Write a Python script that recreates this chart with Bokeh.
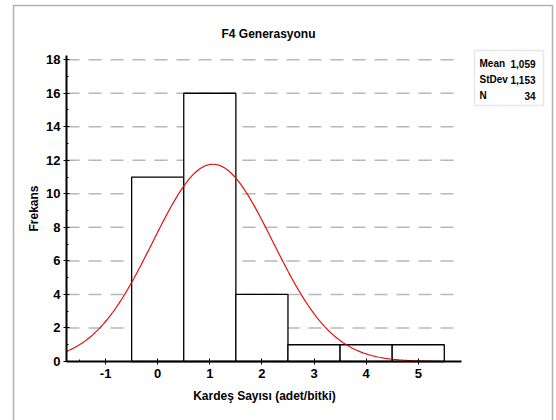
import numpy as np
from bokeh.plotting import figure
from bokeh.models import FixedTicker, Label, BoxAnnotation, Range1d
from bokeh.embed import file_html
from bokeh.resources import INLINE

# ---- data ----
bin_centers = [0, 1, 2, 3, 4, 5]
frequencies = [11, 16, 4, 1, 1, 1]
BIN_WIDTH = 1.0
MEAN = 1.059
STDEV = 1.153
N = 34
x_ticks = [-1, 0, 1, 2, 3, 4, 5]
y_ticks = [0, 2, 4, 6, 8, 10, 12, 14, 16, 18]
title_text = "F4 Generasyonu"
x_label = "Kardeş Sayısı (adet/bitki)"
y_label = "Frekans"
stat_names = ["Mean", "StDev", "N"]
stat_values = ["1,059", "1,153", "34"]

# ---- layout (pixels) ----
W, H = 556, 420
AX_X0, AX_X1 = -1.75, 5.83      # data extent of the x axis
AX_Y0, AX_Y1 = 0, 18.25         # data extent of the y axis
PX_LEFT, PX_RIGHT = 66, 461     # pixel extent of the x axis
PX_BOTTOM, PX_TOP = 361, 55     # pixel extent of the y axis

sx = (PX_RIGHT - PX_LEFT) / (AX_X1 - AX_X0)
sy = (PX_BOTTOM - PX_TOP) / (AX_Y1 - AX_Y0)
def X(px):
    return AX_X0 + (px - PX_LEFT) / sx
def Y(py):
    return AX_Y0 + (PX_BOTTOM - py) / sy

FONT = "Liberation Sans"

p = figure(width=W, height=H, x_range=Range1d(X(0), X(W)), y_range=Range1d(Y(H), Y(0)),
           output_backend="svg", toolbar_location=None,
           min_border_left=0, min_border_right=0, min_border_top=0, min_border_bottom=0)
p.outline_line_color = None
p.background_fill_color = "white"
p.border_fill_color = "white"
p.grid.visible = False

# grid lines (dashed), limited to axis extent
gy = y_ticks[1:]
p.segment(x0=[AX_X0] * len(gy), x1=[AX_X1] * len(gy), y0=gy, y1=gy,
          line_color="#b8b8b8", line_width=1.5, line_dash="13 9")

# bars
left = [c - BIN_WIDTH / 2 for c in bin_centers]
right = [c + BIN_WIDTH / 2 for c in bin_centers]
p.quad(left=left, right=right, bottom=0, top=frequencies,
       fill_color="white", line_color="black", line_width=1.3)

# normal fit
xs = np.linspace(AX_X0, 5.4, 300)
ys = N * BIN_WIDTH / (STDEV * np.sqrt(2 * np.pi)) * np.exp(-0.5 * ((xs - MEAN) / STDEV) ** 2)
p.line(xs, ys, line_color="#e01010", line_width=1.2)

# axes at fixed locations
for ax in (p.xaxis[0], p.yaxis[0]):
    ax.axis_line_color = "black"
    ax.axis_line_width = 2
    ax.major_tick_line_color = "black"
    ax.minor_tick_line_color = "black"
    ax.major_label_text_font = FONT
    ax.major_label_text_font_style = "bold"
    ax.major_label_text_font_size = "13px"
    ax.major_label_text_color = "black"
    ax.major_tick_in = 3
    ax.major_tick_out = 3
    ax.minor_tick_in = 2
    ax.minor_tick_out = 0
p.xaxis.fixed_location = AX_Y0
p.yaxis.fixed_location = AX_X0
p.xaxis.bounds = (AX_X0, AX_X1)
p.yaxis.bounds = (AX_Y0, AX_Y1)
p.xaxis.ticker = FixedTicker(ticks=x_ticks, minor_ticks=[-1.5 + i for i in range(8)])
p.yaxis.ticker = FixedTicker(ticks=y_ticks, minor_ticks=list(range(1, 19, 2)))
p.xaxis.major_label_overrides = {t: str(t) for t in x_ticks}
p.xaxis.major_label_standoff = 4
p.yaxis.major_label_standoff = 3

def lab(px, py, text, size="12px", align="center", font=FONT, angle=0.0):
    p.add_layout(Label(x=X(px), y=Y(py), text=text, text_font=font, text_font_style="bold",
                       text_font_size=size, text_align=align, text_baseline="middle",
                       text_color="black", angle=angle))

lab(268, 33, title_text)
lab(264, 395, x_label)
lab(33, 208, y_label, angle=np.pi / 2)

# outer frame lines (top and left)
p.add_layout(BoxAnnotation(left=X(13), right=X(552), top=Y(5), bottom=Y(H + 20),
                           fill_alpha=0, line_color="black", line_width=1.5))
# stats box
p.add_layout(BoxAnnotation(left=X(474), right=X(543), top=Y(50), bottom=Y(105),
                           fill_color="white", fill_alpha=1, line_color="#b0b0b0", line_width=1.5))
for i, (nm, vl) in enumerate(zip(stat_names, stat_values)):
    yy = 63 + i * 16
    lab(479, yy, nm, size="10px", align="left")
    lab(535, yy, vl, size="10px", align="right")

out = file_html(p, INLINE)
open("out.html", "w").write(out)
